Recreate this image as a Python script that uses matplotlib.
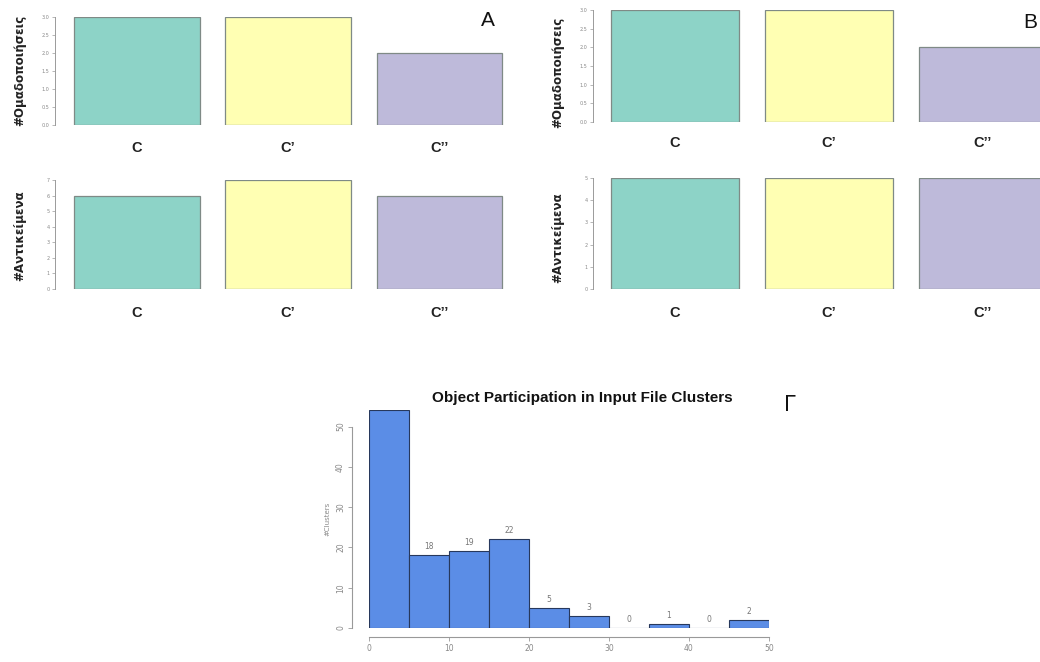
import matplotlib
matplotlib.use("Agg")
import matplotlib.pyplot as plt
import numpy as np

W, H = 1040, 662

# ---- data ----
categories = ["C", "C'", "C''"]
cat_labels = ["C", "C’", "C’’"]
bar_colors = ["#8DD3C7", "#FFFFB3", "#BEBADA"]

A_clusterings = [3, 3, 2]
A_objects = [6, 7, 6]
B_clusterings = [3, 3, 2]
B_objects = [5, 5, 5]

hist_edges = [0, 5, 10, 15, 20, 25, 30, 35, 40, 45, 50]
hist_counts = [54, 18, 19, 22, 5, 3, 0, 1, 0, 2]
hist_title = "Object Participation in Input File Clusters"

fig = plt.figure(figsize=(W / 100, H / 100), dpi=100)


def px_axes(x0, y0, x1, y1):
    """axes from pixel box (top-left origin)"""
    return fig.add_axes([x0 / W, 1 - y1 / H, (x1 - x0) / W, (y1 - y0) / H])


def bar_panel(box, values, ymax, yticks, xlim, tickfmt):
    ax = px_axes(*box)
    x = np.arange(len(values))
    ax.bar(x, values, width=0.83, color=bar_colors, edgecolor="#7f8a86",
           linewidth=0.9, zorder=2)
    ax.set_xlim(*xlim)
    ax.set_ylim(0, ymax)
    for s in ["top", "right", "bottom"]:
        ax.spines[s].set_visible(False)
    ax.spines["left"].set_color("#9a9a9a")
    ax.spines["left"].set_linewidth(0.7)
    ax.set_yticks(yticks)
    ax.set_yticklabels([tickfmt(t) for t in yticks], fontsize=3.5, color="#888888")
    ax.tick_params(axis="y", length=2.5, width=0.5, color="#9a9a9a", pad=1.5)
    ax.set_xticks([])
    return ax


def place_labels(ax, ypix):
    for xd, lab in enumerate(cat_labels):
        xp = ax.transData.transform((xd, 0))[0]
        fig.text(xp / W, 1 - ypix / H, lab, ha="center", va="center",
                 fontsize=10.5, fontweight="bold", family="Liberation Sans",
                 color="#222222")


fmt1 = lambda t: f"{t:.1f}"
fmt0 = lambda t: f"{int(t)}"

# Panel A
axA1 = bar_panel((55, 17, 515, 125), A_clusterings, 3, np.arange(0, 3.01, 0.5),
                 (-0.54, 2.5), fmt1)
axA2 = bar_panel((55, 180, 515, 289), A_objects, 7, np.arange(0, 8, 1),
                 (-0.54, 2.5), fmt0)
# Panel B
axB1 = bar_panel((593, 10, 1040, 122), B_clusterings, 3, np.arange(0, 3.01, 0.5),
                 (-0.532, 2.37), fmt1)
axB2 = bar_panel((593, 178, 1040, 289), B_objects, 5, np.arange(0, 6, 1),
                 (-0.532, 2.37), fmt0)

fig.canvas.draw()
place_labels(axA1, 148)
place_labels(axA2, 313)
place_labels(axB1, 143)
place_labels(axB2, 313)

# y labels
ylab_kw = dict(rotation=90, ha="center", va="center", fontsize=8.6,
               fontweight="bold", family="DejaVu Sans", color="#222222")
fig.text(20 / W, 1 - 70 / H, "#Ομαδοποιήσεις", **ylab_kw)
fig.text(20 / W, 1 - 236 / H, "#Αντικείμενα", **ylab_kw)
fig.text(558 / W, 1 - 72 / H, "#Ομαδοποιήσεις", **ylab_kw)
fig.text(558 / W, 1 - 238 / H, "#Αντικείμενα", **ylab_kw)

# panel letters
fig.text(488 / W, 1 - 20 / H, "A", ha="center", va="center", fontsize=15,
         family="Liberation Sans", color="#111111")
fig.text(1030 / W, 1 - 22 / H, "B", ha="center", va="center", fontsize=15,
         family="Liberation Sans", color="#111111")

# Panel Γ histogram
axH = px_axes(369, 410.4, 769, 628)
widths = np.diff(hist_edges)
lefts = np.array(hist_edges[:-1])
axH.bar(lefts, hist_counts, width=widths, align="edge", color="#5B8DE6",
        edgecolor="#27385c", linewidth=0.8, zorder=2)
axH.set_xlim(0, 50)
axH.set_ylim(0, 54)
for s in ["top", "right"]:
    axH.spines[s].set_visible(False)
axH.spines["left"].set_position(("outward", 12.2))
axH.spines["bottom"].set_position(("outward", 6.5))
axH.spines["left"].set_bounds(0, 50)
axH.spines["bottom"].set_bounds(0, 50)
for s in ["left", "bottom"]:
    axH.spines[s].set_color("#999999")
    axH.spines[s].set_linewidth(0.8)
axH.set_yticks(np.arange(0, 51, 10))
axH.set_yticklabels([str(v) for v in range(0, 51, 10)], rotation=90,
                    fontsize=5.5, color="#888888", va="center")
axH.set_xticks(np.arange(0, 51, 10))
axH.set_xticklabels([str(v) for v in range(0, 51, 10)], fontsize=5.5,
                    color="#888888")
axH.tick_params(length=3, width=0.6, color="#999999", pad=2)
axH.set_ylabel("#Clusters", fontsize=5, color="#888888", labelpad=4)
centers = lefts + widths / 2
for cx, c in zip(centers, hist_counts):
    axH.annotate(str(c), (cx, c), xytext=(0, 3), textcoords="offset points",
                 ha="center", va="bottom", fontsize=5.5, color="#777777",
                 annotation_clip=True, clip_on=True)
fig.text(582 / W, 1 - 398 / H, hist_title, ha="center", va="center",
         fontsize=11, fontweight="bold", family="Liberation Sans",
         color="#111111")
fig.text(790 / W, 1 - 405 / H, "Γ", ha="center", va="center", fontsize=15,
         family="DejaVu Sans", color="#111111")

fig.savefig("out.png", dpi=100)
